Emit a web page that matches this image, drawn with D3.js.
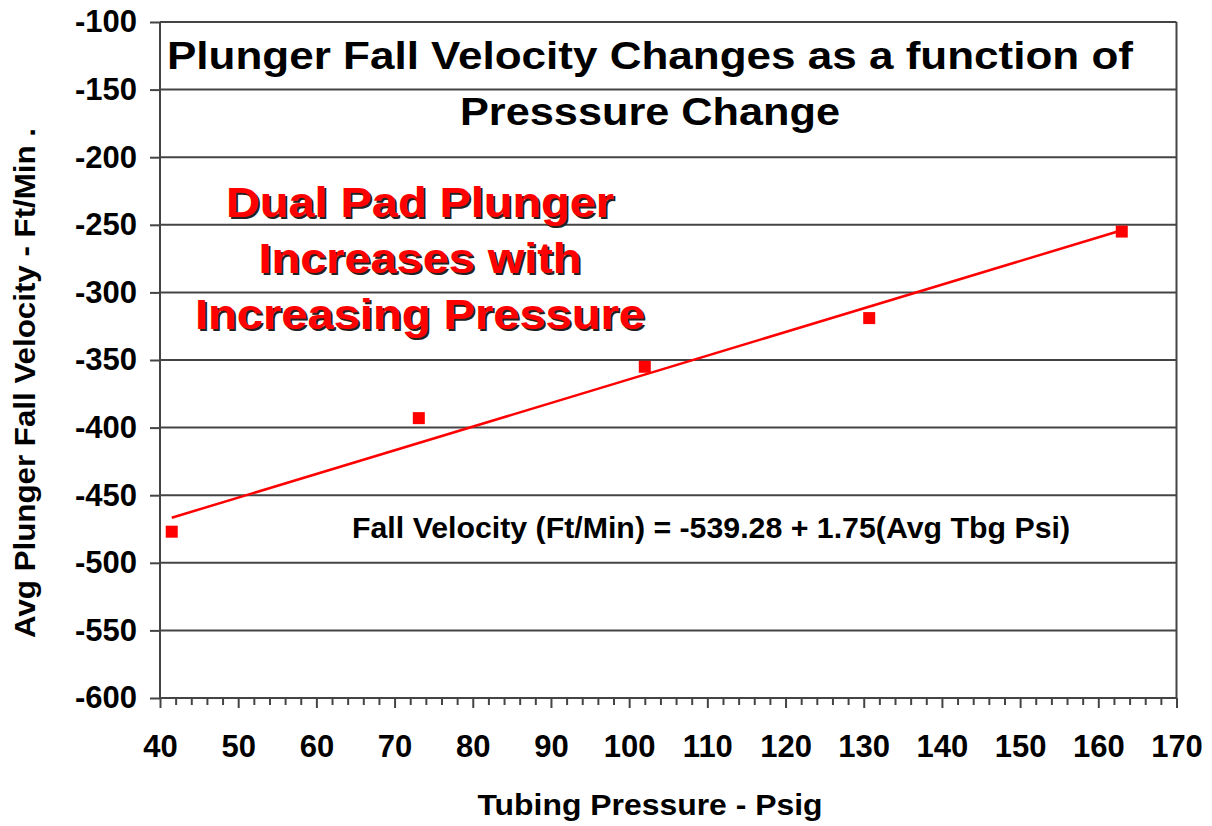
<!DOCTYPE html>
<html>
<head>
<meta charset="utf-8">
<script src="https://cdn.jsdelivr.net/npm/d3@7"></script>
<style>
  body { margin: 0; background: #fff; }
  svg { display: block; font-family: "Liberation Sans", Arial, sans-serif; font-weight: bold; }
  .grid line { stroke: #444; stroke-width: 2; }
  .axis path, .axis line { stroke: #444; stroke-width: 2; }
  .axis text { font-size: 31px; fill: #000; font-family: "Liberation Sans", Arial, sans-serif; font-weight: bold; }
</style>
</head>
<body>
<svg id="chart"></svg>
<script>
// DATA
const pressure = [41.5, 73.1, 102, 130.7, 163];
const velocity = [-477, -393, -355, -319, -255];
const xTicks = [40, 50, 60, 70, 80, 90, 100, 110, 120, 130, 140, 150, 160, 170];
const yTicks = [-100, -150, -200, -250, -300, -350, -400, -450, -500, -550, -600];
const fitIntercept = -539.28;
const fitSlope = 1.75;
const titleLines = ["Plunger Fall Velocity Changes as a function of", "Presssure Change"];
const noteLines = ["Dual Pad Plunger", "Increases with", "Increasing Pressure"];
const equation = "Fall Velocity (Ft/Min) = -539.28 + 1.75(Avg Tbg Psi)";

const width = 1212;
const height = 826;
const plot = { left: 160, right: 1176.5, top: 22, bottom: 698 };

const svg = d3.select("#chart")
  .attr("width", width)
  .attr("height", height);

const x = d3.scaleLinear().domain([40, 170]).range([plot.left, plot.right]);
const y = d3.scaleLinear().domain([-600, -100]).range([plot.bottom, plot.top]);

// horizontal gridlines
svg.append("g")
  .attr("class", "grid")
  .selectAll("line")
  .data(yTicks)
  .join("line")
  .attr("x1", plot.left)
  .attr("x2", plot.right)
  .attr("y1", d => y(d))
  .attr("y2", d => y(d));

// right border
svg.append("line")
  .attr("x1", plot.right).attr("x2", plot.right)
  .attr("y1", plot.top).attr("y2", plot.bottom)
  .attr("stroke", "#444").attr("stroke-width", 2);

// y axis (plain hyphen for negatives, as in the original)
const yAxis = svg.append("g")
  .attr("class", "axis")
  .attr("transform", `translate(${plot.left},0)`)
  .call(d3.axisLeft(y).tickValues(yTicks).tickSize(10).tickSizeOuter(0).tickPadding(13)
    .tickFormat(d => String(d)));
yAxis.select(".domain").attr("d", `M0,${plot.top}V${plot.bottom}`);

// x axis: minor ticks every 2, major every 10
const xMinor = d3.range(40, 171, 2).filter(v => v % 10 !== 0);
svg.append("g")
  .attr("class", "axis")
  .attr("transform", `translate(0,${plot.bottom})`)
  .call(d3.axisBottom(x).tickValues(xMinor).tickSize(7).tickFormat(""))
  .select(".domain").remove();
svg.append("g")
  .attr("class", "axis")
  .attr("transform", `translate(0,${plot.bottom})`)
  .call(d3.axisBottom(x).tickValues(xTicks).tickSize(10).tickSizeOuter(0).tickPadding(27)
    .tickFormat(d => String(d)))
  .select(".domain").attr("d", `M${plot.left},0H${plot.right}`);

// trend line
const xExtent = d3.extent(pressure);
svg.append("path")
  .datum(xExtent)
  .attr("fill", "none")
  .attr("stroke", "#ff0000")
  .attr("stroke-width", 2.5)
  .attr("d", d3.line().x(d => x(d)).y(d => y(fitIntercept + fitSlope * d)));

// markers
const size = 12;
svg.append("g")
  .selectAll("rect")
  .data(pressure.map((p, i) => ({ p, v: velocity[i] })))
  .join("rect")
  .attr("x", d => x(d.p) - size / 2)
  .attr("y", d => y(d.v) - size / 2)
  .attr("width", size)
  .attr("height", size)
  .attr("fill", "#ff0000");

// title
const titleLens = [966, 380];
svg.append("g")
  .selectAll("text")
  .data(titleLines)
  .join("text")
  .attr("x", 650)
  .attr("y", (d, i) => 69 + i * 56)
  .attr("text-anchor", "middle")
  .attr("font-size", 38)
  .attr("textLength", (d, i) => titleLens[i])
  .attr("lengthAdjust", "spacingAndGlyphs")
  .text(d => d);

// red annotation with shadow
const noteLens = [388, 323, 450];
[["#222", 2], ["#ff0000", 0]].forEach(([color, off]) => {
  svg.append("g")
    .selectAll("text")
    .data(noteLines)
    .join("text")
    .attr("x", 420 + off)
    .attr("y", (d, i) => 217 + i * 56 + off)
    .attr("text-anchor", "middle")
    .attr("font-size", 43)
    .attr("fill", color)
    .attr("textLength", (d, i) => noteLens[i])
    .attr("lengthAdjust", "spacingAndGlyphs")
    .text(d => d);
});

// regression equation
svg.append("text")
  .attr("x", 352)
  .attr("y", 538)
  .attr("font-size", 30)
  .attr("textLength", 718)
  .attr("lengthAdjust", "spacingAndGlyphs")
  .text(equation);

// axis titles
svg.append("text")
  .attr("x", 650)
  .attr("y", 815)
  .attr("text-anchor", "middle")
  .attr("font-size", 29)
  .attr("textLength", 345)
  .attr("lengthAdjust", "spacingAndGlyphs")
  .text("Tubing Pressure - Psig");

svg.append("text")
  .attr("transform", "translate(35,383) rotate(-90)")
  .attr("text-anchor", "middle")
  .attr("font-size", 29)
  .attr("textLength", 510)
  .attr("lengthAdjust", "spacingAndGlyphs")
  .text("Avg Plunger Fall Velocity - Ft/Min .");
</script>
</body>
</html>
